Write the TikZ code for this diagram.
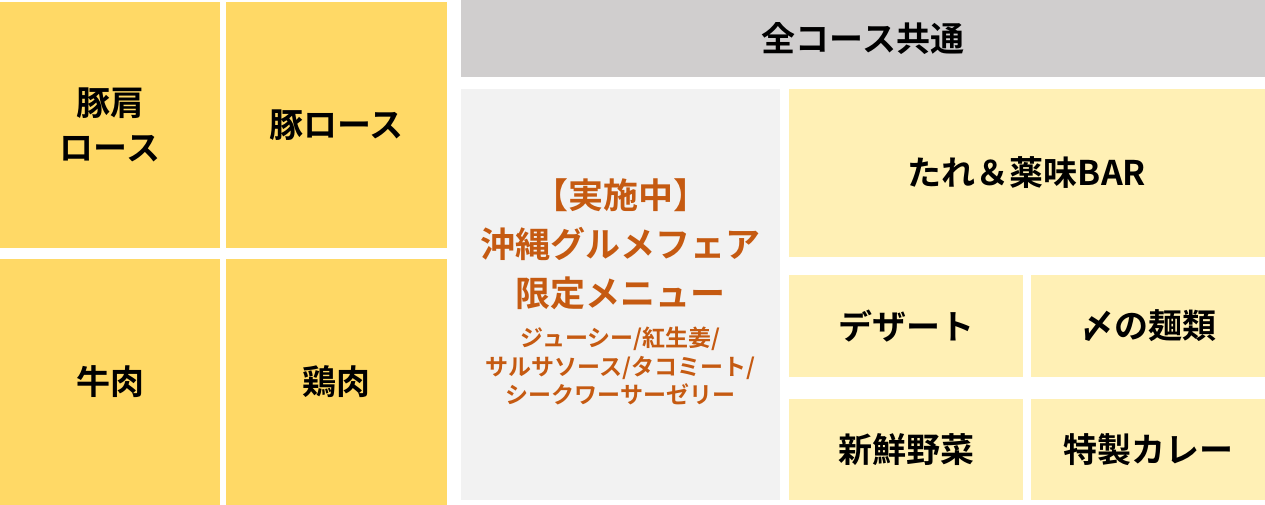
\documentclass[tikz,border=0pt]{standalone}
\usepackage{fontspec}
\setmainfont{Noto Sans CJK JP}[BoldFont={* Bold}]
\definecolor{meat}{HTML}{FFD966}
\definecolor{side}{HTML}{FFF0B5}
\definecolor{hdr}{HTML}{D0CECE}
\definecolor{fair}{HTML}{F2F2F2}
\definecolor{fairtext}{HTML}{C55A11}
\tikzset{
  cell/.style={rectangle, inner sep=0pt, outer sep=0pt, draw=none, align=center,
    font=\bfseries\fontsize{34}{45}\selectfont, text=black},
  meatcell/.style={cell, fill=meat},
  sidecell/.style={cell, fill=side},
}
\begin{document}
\begin{tikzpicture}[x=1pt,y=-1pt]
\useasboundingbox (0,0) rectangle (1265,505);
% left meat boxes
\node[meatcell, minimum width=220pt, minimum height=246pt] (kata) at (110,125) {豚肩\\ロース};
\node[meatcell, minimum width=221pt, minimum height=246pt] (rosu) at (336.5,125) {豚ロース};
\node[meatcell, minimum width=220pt, minimum height=246pt] (gyu) at (110,382) {牛肉};
\node[meatcell, minimum width=221pt, minimum height=246pt] (tori) at (336.5,382) {鶏肉};
% header
\node[cell, fill=hdr, minimum width=804pt, minimum height=77pt] (common) at (863,38.5) {全コース共通};
% fair box
\node[cell, fill=fair, minimum width=319pt, minimum height=411pt] (fairbox) at (620.5,294.5) {};
\node[align=center, text=fairtext, inner sep=0pt,
      font={\lineskiplimit=-100pt\bfseries\fontsize{23}{28.5}\selectfont}] (fairtxt) at (620.5,292)
  {{\fontsize{35}{49}\selectfont 【実施中】}\\[20.5pt]
   {\fontsize{35}{49}\selectfont 沖縄グルメフェア}\\[20.5pt]
   {\fontsize{35}{49}\selectfont 限定メニュー}\\[12pt]
   ジューシー/紅生姜/\\
   サルサソース/タコミート/\\
   シークワーサーゼリー};
% side boxes
\node[sidecell, minimum width=476pt, minimum height=168pt] (bar) at (1027,173) {たれ＆薬味BAR};
\node[sidecell, minimum width=234pt, minimum height=102pt] (dessert) at (906,326) {デザート};
\node[sidecell, minimum width=234pt, minimum height=102pt] (noodle) at (1148,326) {〆の麺類};
\node[sidecell, minimum width=234pt, minimum height=101pt] (veg) at (906,449.5) {新鮮野菜};
\node[sidecell, minimum width=234pt, minimum height=101pt] (curry) at (1148,449.5) {特製カレー};
\end{tikzpicture}
\end{document}
